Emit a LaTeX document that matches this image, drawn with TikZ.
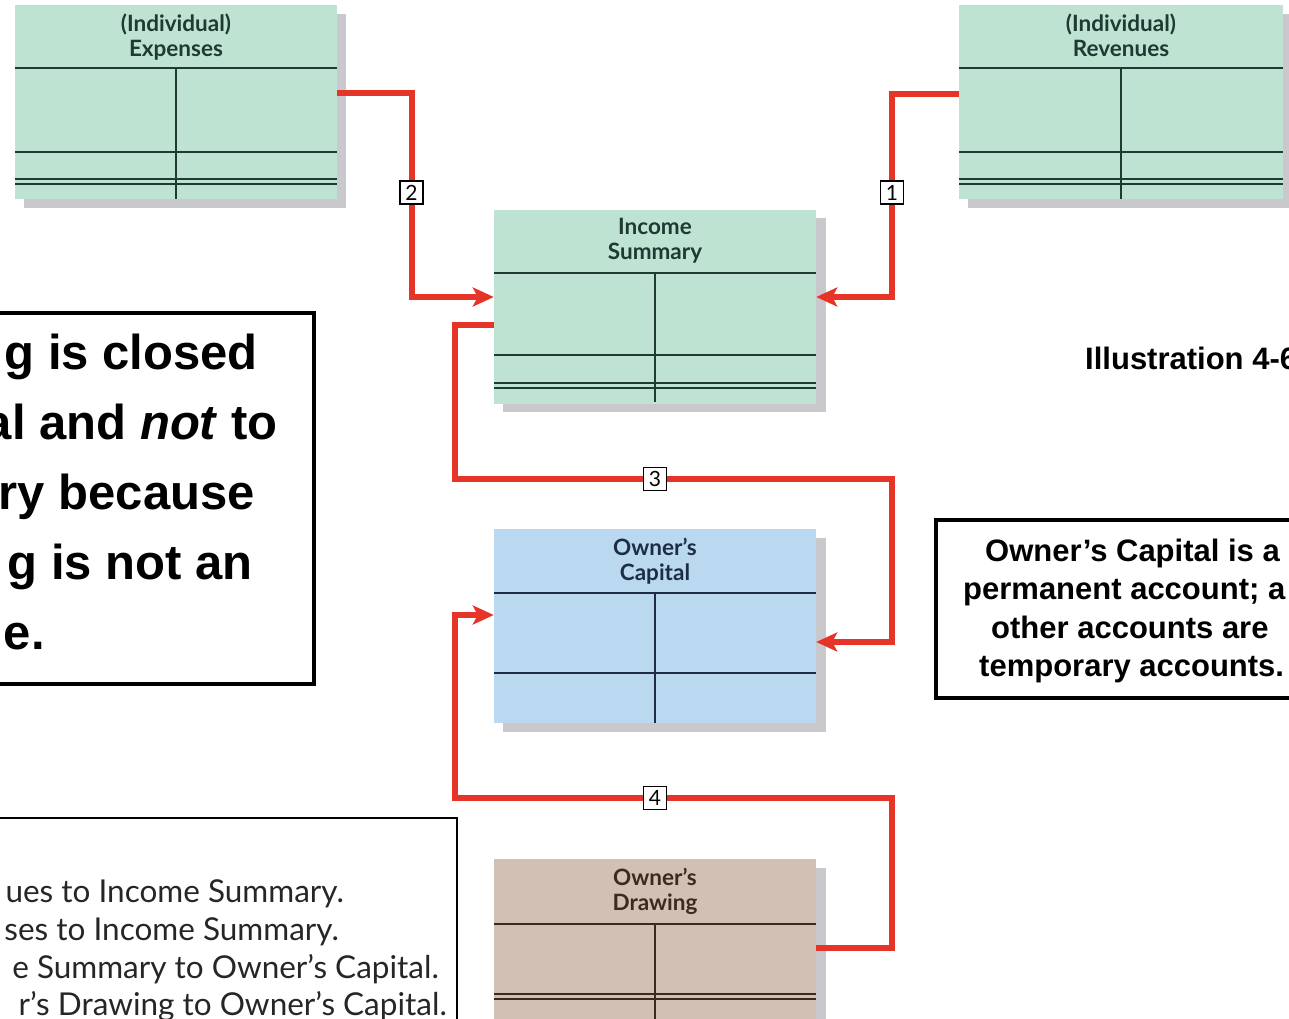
\documentclass[tikz,border=0pt]{standalone}
\usepackage{fontspec}
\setmainfont{Liberation Sans}
\newfontfamily\gillfont{Lato}
\usetikzlibrary{arrows.meta,positioning}
\definecolor{ColorGreen}{RGB}{190,227,211}
\definecolor{ColorBlue}{RGB}{186,217,241}
\definecolor{ColorTan}{RGB}{211,192,180}
\definecolor{ColorShade}{RGB}{201,201,205}
\definecolor{ColorRed}{RGB}{231,52,40}
\definecolor{InkGreen}{RGB}{30,58,50}
\definecolor{InkBlue}{RGB}{28,45,68}
\definecolor{InkBrown}{RGB}{58,42,34}
\tikzset{
  acct/.style={rectangle, inner sep=0pt, minimum width=322pt, minimum height=194pt},
  acctitle/.style={inner sep=0pt, align=center, font=\gillfont\bfseries\fontsize{22.5}{25}\selectfont},
  tline/.style={line width=1.6pt},
  closeline/.style={ColorRed, line width=6pt},
  closearrow/.style={closeline, -{Stealth[length=21pt,width=19pt,inset=5pt]}},
  numbox/.style={draw=black, fill=white, line width=1.3pt, minimum size=23pt, inner sep=0pt, font=\gillfont\fontsize{21}{21}\selectfont},
  callbox/.style={draw=black, line width=4pt, inner sep=0pt},
  calltext/.style={inner sep=0pt, font=\bfseries\fontsize{49}{49}\selectfont},
  sidetext/.style={inner sep=0pt, font=\bfseries\fontsize{31}{31}\selectfont},
  legtext/.style={inner sep=0pt, text=black!85, font=\gillfont\fontsize{31.5}{31.5}\selectfont}
}
\begin{document}
\begin{tikzpicture}[x=1pt,y=-1pt]
        \useasboundingbox (0,0) rectangle (1289,1018);
        \clip (0,0) rectangle (1289,1018);
        %Expenses
        \fill[ColorShade] (24,14) rectangle (346,208);
        \node[acct, fill=ColorGreen] (exp) at (176,102) {};
        \node[acctitle, text=InkGreen, below=9pt of exp.north] (expttl) {(Individual)\\Expenses};
        \draw[tline, InkGreen] (15,68)--(337,68) (176,68)--(176,199) (15,152)--(337,152) (15,179)--(337,179) (15,184)--(337,184);
        %Revenues
        \fill[ColorShade] (968,14) rectangle (1292,208);
        \node[acct, minimum width=324pt, fill=ColorGreen] (rev) at (1121,102) {};
        \node[acctitle, text=InkGreen, below=9pt of rev.north] (revttl) {(Individual)\\Revenues};
        \draw[tline, InkGreen] (959,68)--(1283,68) (1121,68)--(1121,199) (959,152)--(1283,152) (959,179)--(1283,179) (959,184)--(1283,184);
        %Income Summary
        \fill[ColorShade] (503,218) rectangle (826,412);
        \node[acct, fill=ColorGreen] (inc) at (655,306.5) {};
        \node[acctitle, text=InkGreen, below=9pt of inc.north] (incttl) {Income\\Summary};
        \draw[tline, InkGreen] (494,273)--(816,273) (655,273)--(655,402) (494,355)--(816,355) (494,383)--(816,383) (494,388)--(816,388);
        %Owner's Capital
        \fill[ColorShade] (503,538) rectangle (826,732);
        \node[acct, fill=ColorBlue] (cap) at (655,626) {};
        \node[acctitle, text=InkBlue, below=9pt of cap.north] (capttl) {Owner’s\\Capital};
        \draw[tline, InkBlue] (494,593)--(816,593) (655,593)--(655,723) (494,673)--(816,673);
        %Owner's Drawing
        \fill[ColorShade] (503,868) rectangle (826,1062);
        \node[acct, fill=ColorTan] (drw) at (655,956) {};
        \node[acctitle, text=InkBrown, below=9pt of drw.north] (drwttl) {Owner’s\\Drawing};
        \draw[tline, InkBrown] (494,924)--(816,924) (655,924)--(655,1053) (494,994)--(816,994) (494,999)--(816,999);
        %Closing entries
        \coordinate (c1) at (892,192.5);
        \coordinate (c2) at (411.5,192.5);
        \coordinate (c3) at (655,479);
        \coordinate (c4) at (655,798);
        \coordinate (lrail) at (455,0);
        \coordinate (rrail) at (892,0);
        \draw[closearrow] ([yshift=8pt]rev.west) -| (c1) |- ([yshift=9.5pt]inc.east);
        \draw[closearrow] ([yshift=9pt]exp.east) -| (c2) |- ([yshift=9.5pt]inc.west);
        \draw[closearrow] ([yshift=-18.5pt]inc.west) -| (lrail |- c3) -- (rrail |- c3) |- ([yshift=-16pt]cap.east);
        \draw[closearrow] ([yshift=8pt]drw.east) -| (rrail |- c4) -- (lrail |- c4) |- ([yshift=11pt]cap.west);
        \node[numbox] (n1) at (c1) {1};
        \node[numbox] (n2) at (c2) {2};
        \node[numbox] (n3) at (c3) {3};
        \node[numbox] (n4) at (c4) {4};
        %Notes
        \node[callbox, minimum width=330pt, minimum height=371pt] (leftnote) at (149,498.5) {};
        \node[calltext, anchor=base east] (ln1) at (258,369) {g is closed};
        \node[calltext, anchor=base east] (ln2) at (278,439) {al and \textit{not} to};
        \node[calltext, anchor=base east] (ln3) at (255,509) {ry because};
        \node[calltext, anchor=base east] (ln4) at (253,579) {g is not an};
        \node[calltext, anchor=base east] (ln5) at (45,649) {e.};
        \node[sidetext, anchor=base west] (illus) at (1085,369) {Illustration 4-6};
        \node[callbox, minimum width=370pt, minimum height=178pt] (rightnote) at (1121,609) {};
        \node[sidetext, anchor=base west] (rn1) at (985,561) {Owner’s Capital is a};
        \node[sidetext, anchor=base west] (rn2) at (963,599) {permanent account; a};
        \node[sidetext, anchor=base west] (rn3) at (991,638) {other accounts are};
        \node[sidetext, anchor=base west] (rn4) at (979,676) {temporary accounts.};
        %Legend
        \node[draw=black, line width=2.5pt, inner sep=0pt, minimum width=477pt, minimum height=222pt] (legend) at (218.5,929) {};
        \node[legtext, anchor=base east] (lg1) at (344,902) {ues to Income Summary.};
        \node[legtext, anchor=base east] (lg2) at (339,940) {ses to Income Summary.};
        \node[legtext, anchor=base east] (lg3) at (439,978) {e Summary to Owner’s Capital.};
        \node[legtext, anchor=base east] (lg4) at (447,1015) {r’s Drawing to Owner’s Capital.};
    \end{tikzpicture}
\end{document}
